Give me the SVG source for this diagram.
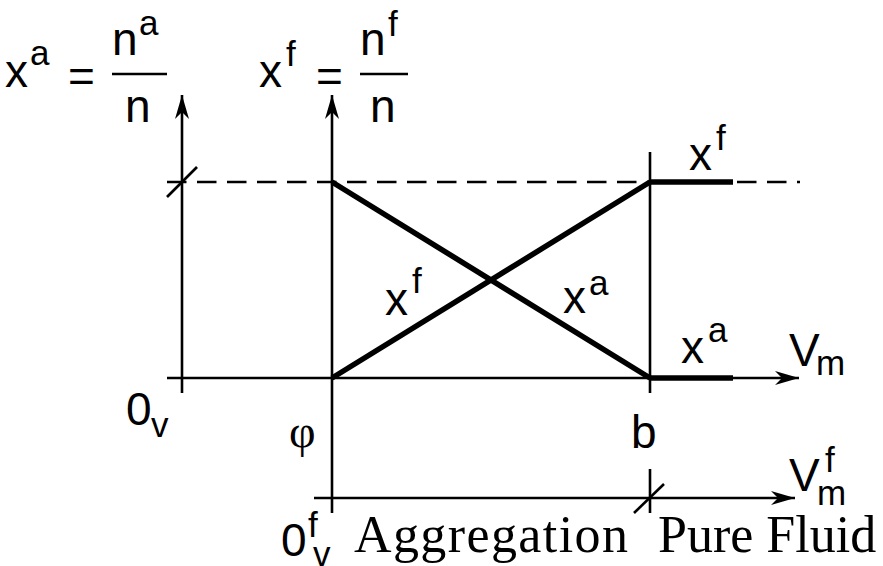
<svg xmlns="http://www.w3.org/2000/svg" width="883" height="566" viewBox="0 0 883 566">
<style>
.s{font-family:"Liberation Sans",Arial,sans-serif;fill:#000}
.r{font-family:"Liberation Serif","Times New Roman",serif;fill:#000}
.big{font-size:46px}
.sup{font-size:35px}
.thin{stroke:#000;stroke-width:2.6;fill:none}
.thick{stroke:#000;stroke-width:5.5;fill:none}
.dash{stroke:#000;stroke-width:2.6;fill:none;stroke-dasharray:19.5 10.5}
</style>
<defs>
<marker id="ah" markerUnits="userSpaceOnUse" viewBox="-26 -8 28 16" refX="0" refY="0" markerWidth="28" markerHeight="16" orient="auto">
<path d="M0,0 L-24,-7 L-17,0 L-24,7 z" fill="#000"/>
</marker>
</defs>
<rect width="883" height="566" fill="#fff"/>
<g id="connectors">
<line class="thin" x1="182" y1="393" x2="182" y2="95" marker-end="url(#ah)"/>
<line class="thin" x1="332" y1="513" x2="332" y2="95" marker-end="url(#ah)"/>
<line class="thin" x1="167" y1="378" x2="799" y2="378" marker-end="url(#ah)"/>
<line class="thin" x1="314" y1="498" x2="795" y2="498" marker-end="url(#ah)"/>
<line class="dash" x1="167" y1="182" x2="800" y2="182"/>
<line class="thin" x1="650" y1="152" x2="650" y2="393"/>
<line class="thin" x1="650" y1="469" x2="650" y2="513"/>
<line class="thin" x1="167" y1="197" x2="197" y2="167"/>
<line class="thin" x1="634" y1="513" x2="664" y2="484"/>
<line class="thick" x1="332" y1="182" x2="650" y2="378"/>
<line class="thick" x1="332" y1="378" x2="650" y2="182"/>
<line class="thick" x1="650" y1="182" x2="733" y2="182"/>
<line class="thick" x1="650" y1="378" x2="733" y2="378"/>
</g>
<g id="eq-xa">
<text class="s big" x="5" y="87">x</text>
<text class="s sup" x="30" y="65">a</text>
<text class="s big" x="68" y="92">=</text>
<text class="s big" x="112" y="55">n</text>
<text class="s sup" x="139" y="35">a</text>
<line class="thin" x1="112" y1="74" x2="167" y2="74"/>
<text class="s big" x="125" y="122">n</text>
</g>
<g id="eq-xf">
<text class="s big" x="259" y="87">x</text>
<text class="s sup" x="286" y="66">f</text>
<text class="s big" x="316" y="92">=</text>
<text class="s big" x="360" y="55">n</text>
<text class="s sup" x="388" y="36">f</text>
<line class="thin" x1="360" y1="74" x2="408" y2="74"/>
<text class="s big" x="370" y="122">n</text>
</g>
<g id="labels">
<text class="s big" x="689" y="170">x</text>
<text class="s sup" x="716" y="150">f</text>
<text class="s big" x="563" y="313">x</text>
<text class="s sup" x="589" y="295">a</text>
<text class="s big" x="385" y="315">x</text>
<text class="s sup" x="412" y="293">f</text>
<text class="s big" x="681" y="363">x</text>
<text class="s sup" x="708" y="342">a</text>
<text class="s big" x="789" y="366">V</text>
<text class="s sup" x="816" y="375">m</text>
<text class="s big" x="789" y="491">V</text>
<text class="s sup" x="825" y="472">f</text>
<text class="s sup" x="817" y="505">m</text>
<text class="s big" x="126" y="425">0</text>
<text class="s sup" x="151" y="437">v</text>
<text class="r big" x="289" y="447">φ</text>
<text class="s big" x="631" y="448">b</text>
<text class="s big" x="281" y="556">0</text>
<text class="s sup" x="308" y="537">f</text>
<text class="s sup" x="313" y="566">v</text>
<text class="r" font-size="52" x="354" y="552" letter-spacing="1.4">Aggregation</text>
<text class="r" font-size="52" x="658" y="552">Pure Fluid</text>
</g>
</svg>
